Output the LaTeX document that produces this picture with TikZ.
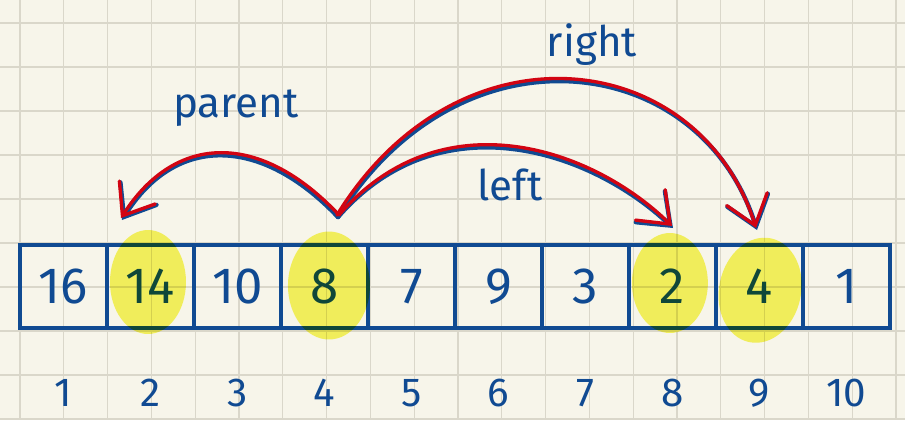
\documentclass[tikz,border=0pt]{standalone}
\usepackage{fontspec}
\setmainfont{Fira Sans}
\usetikzlibrary{arrows.meta, positioning}
\definecolor{paper}{RGB}{247,245,234}
\definecolor{gridgray}{RGB}{218,215,202}
\definecolor{inkblue}{RGB}{16,74,146}
\definecolor{inkred}{RGB}{210,4,18}
\definecolor{marker}{RGB}{248,247,100}
\tikzset{
    cell/.style={rectangle, draw=inkblue, line width=2.2pt, outer sep=0pt,
                 minimum width=1.74cm, minimum height=1.66cm, inner sep=0pt,
                 text=inkblue, font=\fontsize{29}{30}\selectfont},
    idx/.style={text=inkblue, font=\fontsize{23}{24}\selectfont},
    lbl/.style={text=inkblue, font=\fontsize{24}{26}\selectfont},
    hl/.style={fill=marker},
    ink/.style={draw=inkblue, line width=2.5pt, line cap=round,
                -{Straight Barb[length=0.55cm, width=0.85cm, line cap=round]}},
    redink/.style={draw=inkred, line width=1.9pt, line cap=round,
                   -{Straight Barb[length=0.55cm, width=0.85cm, line cap=round]}},
}

\begin{document}
\begin{tikzpicture}[x=0.02cm, y=-0.02cm]
    \useasboundingbox (0,0) rectangle (905,420);
    % paper
    \fill[paper] (0,0) rectangle (905,420);
    \foreach \k in {0,...,20}
        \draw[gridgray, line width=0.6pt] (20+43.8*\k,0) -- (20+43.8*\k,420);
    \foreach \k in {0,...,9}
        \draw[gridgray, line width=0.6pt] (0,23+44*\k) -- (905,23+44*\k);

    % array
    \node[cell] (c1) at (63.5,286.5) {16};
    \node[cell, right=0pt of c1] (c2) {14};
    \node[cell, right=0pt of c2] (c3) {10};
    \node[cell, right=0pt of c3] (c4) {8};
    \node[cell, right=0pt of c4] (c5) {7};
    \node[cell, right=0pt of c5] (c6) {9};
    \node[cell, right=0pt of c6] (c7) {3};
    \node[cell, right=0pt of c7] (c8) {2};
    \node[cell, right=0pt of c8] (c9) {4};
    \node[cell, right=0pt of c9] (c10) {1};

    % indices
    \coordinate (idxrow) at (0,393);
    \node[idx] (i1) at (c1 |- idxrow) {1};
    \node[idx] (i2) at (c2 |- idxrow) {2};
    \node[idx] (i3) at (c3 |- idxrow) {3};
    \node[idx] (i4) at (c4 |- idxrow) {4};
    \node[idx] (i5) at (c5 |- idxrow) {5};
    \node[idx] (i6) at (c6 |- idxrow) {6};
    \node[idx] (i7) at (c7 |- idxrow) {7};
    \node[idx] (i8) at (c8 |- idxrow) {8};
    \node[idx] (i9) at (c9 |- idxrow) {9};
    \node[idx] (i10) at (c10 |- idxrow) {10};

    % highlighter
    \begin{scope}[blend mode=multiply]
        \fill[hl] ([shift={(-2.5,-4.5)}]c2.center) ellipse [x radius=0.76cm, y radius=1.04cm];
        \fill[hl] ([shift={(4.5,-1)}]c4.center) ellipse [x radius=0.82cm, y radius=1.08cm];
        \fill[hl] ([shift={(-2.5,-3.5)}]c8.center) ellipse [x radius=0.76cm, y radius=1cm];
        \fill[hl, rotate around={-12:([shift={(1.5,3.5)}]c9.center)}] ([shift={(1.5,3.5)}]c9.center) ellipse [x radius=0.82cm, y radius=1.06cm];
    \end{scope}

    % labels
    \node[lbl] (labparent) at (236,108) {parent};
    \node[lbl] (labright) at (592,45) {right};
    \node[lbl] (lableft) at (510,185) {left};

    % pointers from node 4
    \coordinate (src) at (338,217);
    \coordinate (tippar) at (122,220);
    \coordinate (tipleft) at (673,228);
    \coordinate (tipright) at (757,230);
    \draw[ink] (src) .. controls (260,135) and (175,135) .. (tippar);
    \draw[ink] (src) .. controls (440,100) and (590,150) .. (tipleft);
    \draw[ink] (src) .. controls (460,20) and (700,50) .. (tipright);
    \draw[redink] ([shift={(1,-2)}]src) .. controls (261,132) and (176,132) .. ([shift={(-1,-2)}]tippar);
    \draw[redink] ([shift={(1,-2)}]src) .. controls (441,97) and (591,147) .. ([shift={(-1,-2)}]tipleft);
    \draw[redink] ([shift={(-1,-2)}]src) .. controls (459,17) and (699,47) .. ([shift={(-1,-2)}]tipright);
\end{tikzpicture}
\end{document}
